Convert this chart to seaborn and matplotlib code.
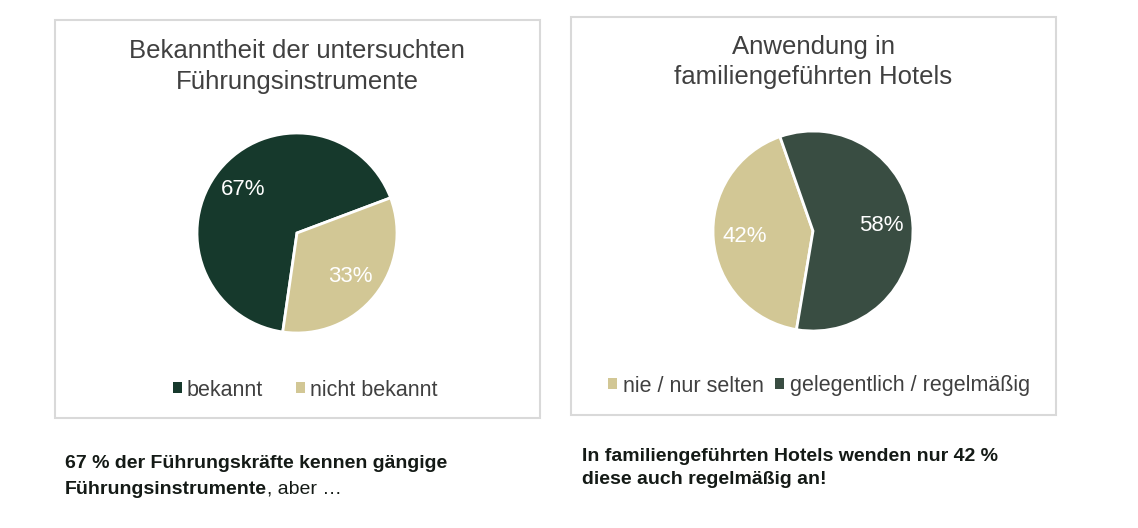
import matplotlib
matplotlib.use("Agg")
import matplotlib.pyplot as plt
import matplotlib.patches as mpatches
import seaborn as sns

sns.set_theme(style="white")
plt.rcParams['font.family'] = ['Liberation Sans', 'DejaVu Sans']

# ---- data ----
left_title = "Bekanntheit der untersuchten\nFührungsinstrumente"
left_labels = ["bekannt", "nicht bekannt"]
left_values = [67, 33]
right_title = "Anwendung in\nfamiliengeführten Hotels"
right_labels = ["nie / nur selten", "gelegentlich / regelmäßig"]
right_values = [42, 58]
caption_left_bold1 = "67 % der Führungskräfte kennen gängige"
caption_left_bold2 = "Führungsinstrumente"
caption_left_rest = ", aber …"
caption_right = "In familiengeführten Hotels wenden nur 42 %\ndiese auch regelmäßig an!"

DARK = "#16392C"
DARK2 = "#394D42"
TAN = "#D2C795"
left_colors = [DARK, TAN]
right_colors = [TAN, DARK2]

W, H = 1138, 528
fig = plt.figure(figsize=(W / 100, H / 100), dpi=100)
fig.patch.set_facecolor("white")

def fx(x):
    return x / W

def fy(y):
    return 1 - y / H

# boxes
for (x0, y0, x1, y1) in [(55, 20, 540, 418), (571, 17, 1056, 415)]:
    fig.patches.append(mpatches.Rectangle((fx(x0), fy(y1)), fx(x1 - x0), (y1 - y0) / H,
                                          transform=fig.transFigure, fill=False,
                                          edgecolor="#D9D9D9", linewidth=1.5))

def draw_pie(cx, cy, r, values, colors, startangle):
    ax = fig.add_axes([fx(cx - r), fy(cy + r), 2 * r / W, 2 * r / H])
    wedges, texts, autotexts = ax.pie(values, colors=colors, startangle=startangle,
                                      counterclock=False, autopct="%d%%", pctdistance=0.69,
                                      wedgeprops=dict(edgecolor="white", linewidth=2),
                                      textprops=dict(color="white", fontsize=16))
    ax.set_xlim(-1.0, 1.0)
    ax.set_ylim(-1.0, 1.0)
    ax.set_aspect("equal")
    ax.axis("off")
    return ax

draw_pie(297, 233, 100, left_values, left_colors, -98.2)
draw_pie(813, 231, 100, right_values, right_colors, 260.5)

# titles
fig.text(fx(297), fy(66.5), left_title, ha="center", va="center", fontsize=18.5,
         color="#404040", linespacing=1.38)
fig.text(fx(813), fy(62), right_title, ha="center", va="center", fontsize=18.5,
         color="#404040", linespacing=1.35)

# legends
lh = [mpatches.Patch(facecolor=c, edgecolor="none") for c in left_colors]
leg1 = fig.legend(lh, left_labels, loc="center", bbox_to_anchor=(fx(305), fy(390)),
                  ncol=2, frameon=False, fontsize=15.5, handlelength=0.42, handleheight=0.42,
                  handletextpad=0.25, columnspacing=1.5, labelcolor="#404040")
rh = [mpatches.Patch(facecolor=c, edgecolor="none") for c in right_colors]
leg2 = fig.legend(rh, right_labels, loc="center", bbox_to_anchor=(fx(819), fy(386)),
                  ncol=2, frameon=False, fontsize=15.5, handlelength=0.42, handleheight=0.42,
                  handletextpad=0.25, columnspacing=0.55, labelcolor="#404040")

# captions
cap_font = ['Liberation Sans', 'DejaVu Sans']
cap_kw = dict(fontsize=14, color="#141A16", family=cap_font, va="center", ha="left")
fig.text(fx(65), fy(463), caption_left_bold1, fontweight="bold", **cap_kw)
t2 = fig.text(fx(65), fy(489), caption_left_bold2, fontweight="bold", **cap_kw)
renderer = fig.canvas.get_renderer()
bb = t2.get_window_extent(renderer=renderer)
fig.text(bb.x1 / W, fy(489), caption_left_rest, **cap_kw)
fig.text(fx(582), fy(468), caption_right, fontweight="bold", linespacing=1.4, **cap_kw)

fig.savefig("out.png", dpi=100, facecolor="white")
